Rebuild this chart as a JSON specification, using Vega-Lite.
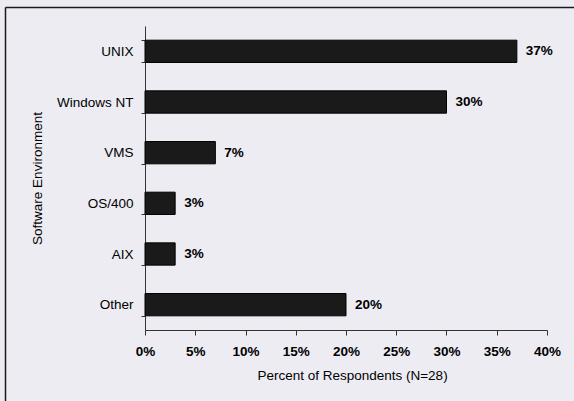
{
  "$schema": "https://vega.github.io/schema/vega-lite/v6.json",
  "autosize": "none",
  "width": 569,
  "height": 394,
  "padding": {"left": 5, "top": 7, "right": 0, "bottom": 0},
  "background": "#edecf3",
  "config": {
    "view": {"stroke": null, "fill": "#edecf3"},
    "font": "Liberation Sans",
    "axis": {"grid": false, "domainColor": "#333333", "tickColor": "#333333", "labelColor": "#000000", "titleColor": "#000000", "labelFontSize": 13.5, "titleFontSize": 13.5, "titleFontWeight": "normal", "labelFont": "Liberation Sans", "titleFont": "Liberation Sans"}
  },
  "data": {
    "values": [
      {"env": "UNIX", "pct": 0.37},
      {"env": "Windows NT", "pct": 0.30},
      {"env": "VMS", "pct": 0.07},
      {"env": "OS/400", "pct": 0.03},
      {"env": "AIX", "pct": 0.03},
      {"env": "Other", "pct": 0.20}
    ]
  },
  "layer": [
    {
      "mark": {"type": "point", "opacity": 0},
      "encoding": {
        "x": {"field": "pct", "type": "quantitative", "scale": {"domain": [0, 1], "range": [0, 569], "nice": false},
          "axis": {"orient": "top", "offset": 0, "labels": false, "ticks": false, "title": null, "domainColor": "#1a1a1a", "domainWidth": 1.5}},
        "y": {"field": "pct", "type": "quantitative", "scale": {"domain": [0, 1], "range": [0, 394], "nice": false},
          "axis": {"orient": "left", "offset": 0, "labels": false, "ticks": false, "title": null, "domainColor": "#1a1a1a", "domainWidth": 1.5}}
      }
    },
    {
      "encoding": {
        "y": {
          "field": "env",
          "type": "nominal",
          "sort": null,
          "scale": {"range": [19, 323], "paddingInner": 0.56, "paddingOuter": 0.28},
          "axis": {"orient": "left", "title": "Software Environment", "offset": -140, "tickBand": "extent", "tickSize": 4, "labelPadding": 8, "titlePadding": 12}
        },
        "x": {
          "field": "pct",
          "type": "quantitative",
          "scale": {"domain": [0, 0.4], "range": [140, 542], "nice": false},
          "axis": {"orient": "bottom", "title": "Percent of Respondents (N=28)", "format": ".0%", "values": [0, 0.05, 0.1, 0.15, 0.2, 0.25, 0.3, 0.35, 0.4], "offset": -71, "tickSize": 5, "labelPadding": 9, "labelFlush": false, "titlePadding": 11, "titleX": 347, "labelFontWeight": "bold"}
        }
      },
      "layer": [
        {"mark": {"type": "bar", "fill": "#1a1a1a", "stroke": "#000000", "strokeWidth": 1}},
        {
          "mark": {"type": "text", "align": "left", "baseline": "middle", "dx": 9, "fontSize": 13.5, "fontWeight": "bold", "color": "#000000"},
          "encoding": {"text": {"field": "pct", "type": "quantitative", "format": ".0%"}}
        }
      ]
    }
  ],
  "resolve": {"scale": {"x": "independent", "y": "independent"}, "axis": {"x": "independent", "y": "independent"}}
}
